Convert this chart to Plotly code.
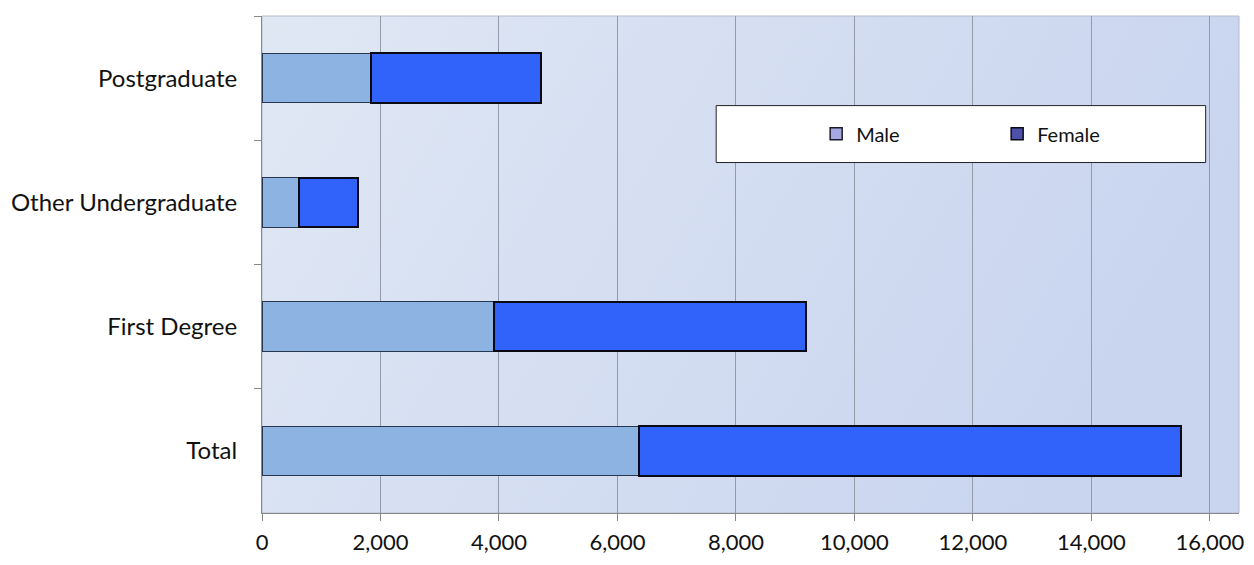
import base64
import plotly.graph_objects as go

# Student numbers by level of study and sex
categories = ["Postgraduate", "Other Undergraduate", "First Degree", "Total"]
male = [1840, 620, 3920, 6370]
female = [2870, 1000, 5270, 9140]
x_ticks = [0, 2000, 4000, 6000, 8000, 10000, 12000, 14000, 16000]
x_tick_text = ["0", "2,000", "4,000", "6,000", "8,000", "10,000", "12,000", "14,000", "16,000"]

FONT = "Lato"
W, H = 1254, 565
L, R, T, B = 262, 10, 16, 47

# soft horizontal gradient for the plot background
svg = (
    '<svg xmlns="http://www.w3.org/2000/svg" width="100" height="100" preserveAspectRatio="none">'
    '<defs><linearGradient id="g" x1="0" y1="0" x2="1" y2="0.3">'
    '<stop offset="0" stop-color="#e0e8f4"/><stop offset="1" stop-color="#c9d4ef"/>'
    '</linearGradient></defs><rect width="100" height="100" fill="url(#g)"/></svg>'
)
bg_uri = "data:image/svg+xml;base64," + base64.b64encode(svg.encode()).decode()

fig = go.Figure()

fig.add_trace(go.Bar(
    y=categories, x=male, orientation="h", name="Male", showlegend=False,
    marker=dict(color="#8db3e2", line=dict(color="#26374f", width=1)),
))
fig.add_trace(go.Bar(
    y=categories, x=female, orientation="h", name="Female", showlegend=False,
    marker=dict(color="#3163fb", line=dict(color="#0a0a14", width=2)),
))

# legend entries
fig.add_trace(go.Bar(
    y=[None], x=[None], orientation="h", name="Male",
    marker=dict(color="#a7a8e2", line=dict(color="#1a1a2a", width=1.5)),
))
fig.add_trace(go.Bar(
    y=[None], x=[None], orientation="h", name="Female",
    marker=dict(color="#4f50a8", line=dict(color="#0a0a1a", width=1.5)),
))

pw = W - L - R
ph = H - T - B


def px_x(v):
    return (v - L) / pw


def px_y(v):
    return (H - B - v) / ph


fig.update_layout(
    width=W, height=H,
    margin=dict(l=L, r=R, t=T, b=B, pad=0),
    paper_bgcolor="white",
    plot_bgcolor="#d5def1",
    barmode="stack",
    bargap=0.6,
    font=dict(family=FONT, size=21, color="#111111"),
    showlegend=True,
    legend=dict(
        orientation="h",
        x=px_x(819), y=px_y(135), xanchor="left", yanchor="middle",
        bgcolor="rgba(0,0,0,0)", borderwidth=0,
        entrywidth=136, entrywidthmode="pixels",
        font=dict(family=FONT, size=20, color="#111111"),
        traceorder="normal",
    ),
    images=[dict(
        source=bg_uri, xref="paper", yref="paper", x=0, y=1,
        sizex=1, sizey=1, sizing="stretch", layer="below",
    )],
    shapes=[
        dict(type="rect", xref="paper", yref="paper", x0=0, x1=1, y0=0, y1=1,
             line=dict(color="#b3bccb", width=1), layer="below"),
        dict(type="rect", xref="paper", yref="paper",
             x0=px_x(718.5), x1=px_x(1210.5), y0=px_y(164), y1=px_y(106.5),
             fillcolor="white", line=dict(color="#222222", width=1), layer="above"),
    ],
    xaxis=dict(
        range=[0, 16490],
        tickvals=x_ticks, ticktext=x_tick_text,
        showgrid=True, gridcolor="#939bab", gridwidth=1,
        zeroline=False,
        showline=True, linecolor="#888888", linewidth=1,
        ticks="outside", ticklen=7, tickcolor="#888888",
        ticklabelstandoff=3,
        tickfont=dict(family=FONT, size=22, color="#111111"),
    ),
    yaxis=dict(
        categoryorder="array", categoryarray=categories,
        autorange="reversed",
        showgrid=False, zeroline=False,
        showline=True, linecolor="#888888", linewidth=1,
        ticks="outside", ticklen=7, tickcolor="#888888",
        tickson="boundaries",
        ticklabelstandoff=19,
        tickfont=dict(family=FONT, size=24, color="#111111"),
    ),
)

fig.write_html("out.html")
